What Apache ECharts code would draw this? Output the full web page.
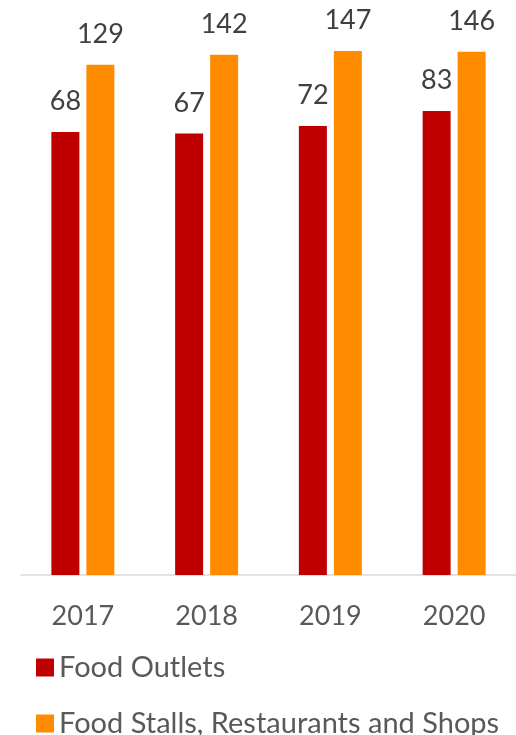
<!DOCTYPE html>
<html>
<head>
<meta charset="utf-8">
<style>
  html, body { margin: 0; padding: 0; background: #ffffff; }
  #chart { width: 516px; height: 735px; }
</style>
<script src="https://cdn.jsdelivr.net/npm/echarts@6/dist/echarts.min.js"></script>
</head>
<body>
<div id="chart"></div>
<script>
// Yearly counts by establishment type
const years = ['2017', '2018', '2019', '2020'];
const seriesNames = ['Food Outlets', 'Food Stalls, Restaurants and Shops'];
const foodOutlets = [68, 67, 72, 83];
const stallsRestaurantsShops = [129, 142, 147, 146];

const FONT = 'Lato, "Liberation Sans", sans-serif';

const chart = echarts.init(document.getElementById('chart'), null, { renderer: 'canvas' });

const barLabel = {
  show: true,
  position: 'top',
  distance: 17,
  fontFamily: FONT,
  fontSize: 27,
  color: '#404040'
};

// one legend row per series, stacked under the axis
function legendRow(name, top) {
  return {
    left: 31,
    top: top,
    itemWidth: 18,
    itemHeight: 18,
    icon: 'rect',
    textStyle: { color: '#595959', fontFamily: FONT, fontSize: 29, lineHeight: 28 },
    data: [name]
  };
}

chart.setOption({
  animation: false,
  backgroundColor: '#ffffff',
  grid: { left: 21, right: 0, top: 18.8, bottom: 160, containLabel: false },
  xAxis: {
    type: 'category',
    data: years,
    axisTick: { show: false },
    axisLine: { onZero: false, lineStyle: { color: '#d9d9d9', width: 1.5 } },
    axisLabel: { color: '#595959', fontFamily: FONT, fontSize: 27, margin: 28 }
  },
  yAxis: {
    type: 'log',
    logBase: 10,
    min: 1,
    max: 200,
    show: false,
    splitLine: { show: false }
  },
  legend: [legendRow(seriesNames[0], 648), legendRow(seriesNames[1], 704)],
  series: [
    {
      name: seriesNames[0],
      type: 'bar',
      data: foodOutlets,
      barWidth: 28,
      barGap: '25%',
      itemStyle: { color: '#C00000' },
      label: barLabel
    },
    {
      name: seriesNames[1],
      type: 'bar',
      data: stallsRestaurantsShops,
      barWidth: 28,
      itemStyle: { color: '#FF8C00' },
      label: barLabel
    }
  ]
});
</script>
</body>
</html>
